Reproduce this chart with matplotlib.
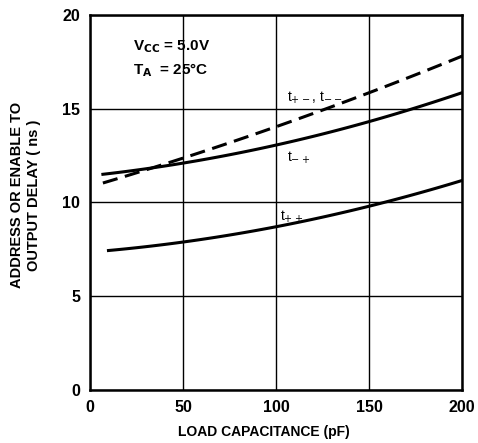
import matplotlib
matplotlib.use("Agg")
import matplotlib.pyplot as plt
import numpy as np

plt.rcParams['font.family'] = ['Liberation Sans', 'DejaVu Sans']

# Data
cap_tpp = [10, 50, 100, 150, 200]
t_pp = [7.4, 7.95, 8.7, 9.75, 11.2]

cap_tmp = [7, 50, 100, 150, 200]
t_mp = [11.45, 12.2, 13.05, 14.24, 15.9]

cap_tpm = [7, 50, 76, 100, 150, 200]
t_pm = [11.05, 12.35, 13.2, 14.05, 15.88, 17.8]

x_ticks = [0, 50, 100, 150, 200]
y_ticks = [0, 5, 10, 15, 20]


def smooth(xs, ys, n=100):
    xs = np.asarray(xs, float); ys = np.asarray(ys, float)
    c = np.polyfit(xs, ys, 2)
    xx = np.linspace(xs[0], xs[-1], n)
    return xx, np.polyval(c, xx)

fig = plt.figure(figsize=(4.78, 4.43), dpi=100)
ax = fig.add_axes([0.188, 0.120, 0.779, 0.846])

ax.set_xlim(0, 200)
ax.set_ylim(0, 20)
ax.set_xticks(x_ticks)
ax.set_yticks(y_ticks)
ax.set_xticklabels([str(v) for v in x_ticks], fontsize=11.5, fontweight='bold')
ax.set_yticklabels([str(v) for v in y_ticks], fontsize=11.5, fontweight='bold')
ax.tick_params(length=0, pad=7)
ax.grid(True, color='black', linewidth=1.0)
for s in ax.spines.values():
    s.set_linewidth(1.8)

xx, yy = smooth(cap_tpp, t_pp)
ax.plot(xx, yy, color='black', linewidth=2.2)
xx, yy = smooth(cap_tmp, t_mp)
ax.plot(xx, yy, color='black', linewidth=2.2)
xx, yy = smooth(cap_tpm, t_pm)
ax.plot(xx, yy, color='black', linewidth=2.2, dashes=(5, 2.5))

ax.set_xlabel('LOAD CAPACITANCE (pF)', fontsize=10, fontweight='bold')
ax.xaxis.set_label_coords(0.468, -0.095)
ax.set_ylabel('ADDRESS OR ENABLE TO\nOUTPUT DELAY ( ns )', fontsize=10.5,
              fontweight='bold', linespacing=1.3)
ax.yaxis.set_label_coords(-0.13, 0.52)

ax.text(23, 18.3, r'V$_{\mathbf{CC}}$ = 5.0V', fontsize=11, fontweight='bold', va='center')
ax.text(23, 17.05, r'T$_{\mathbf{A}}$  = 25°C', fontsize=11, fontweight='bold', va='center')

ax.text(106, 15.6, r't$_{+-}$, t$_{--}$', fontsize=10, va='center')
ax.text(106, 12.4, r't$_{-+}$', fontsize=10, va='center')
ax.text(102, 9.25, r't$_{++}$', fontsize=10, va='center')

fig.savefig('out.png', dpi=100)
